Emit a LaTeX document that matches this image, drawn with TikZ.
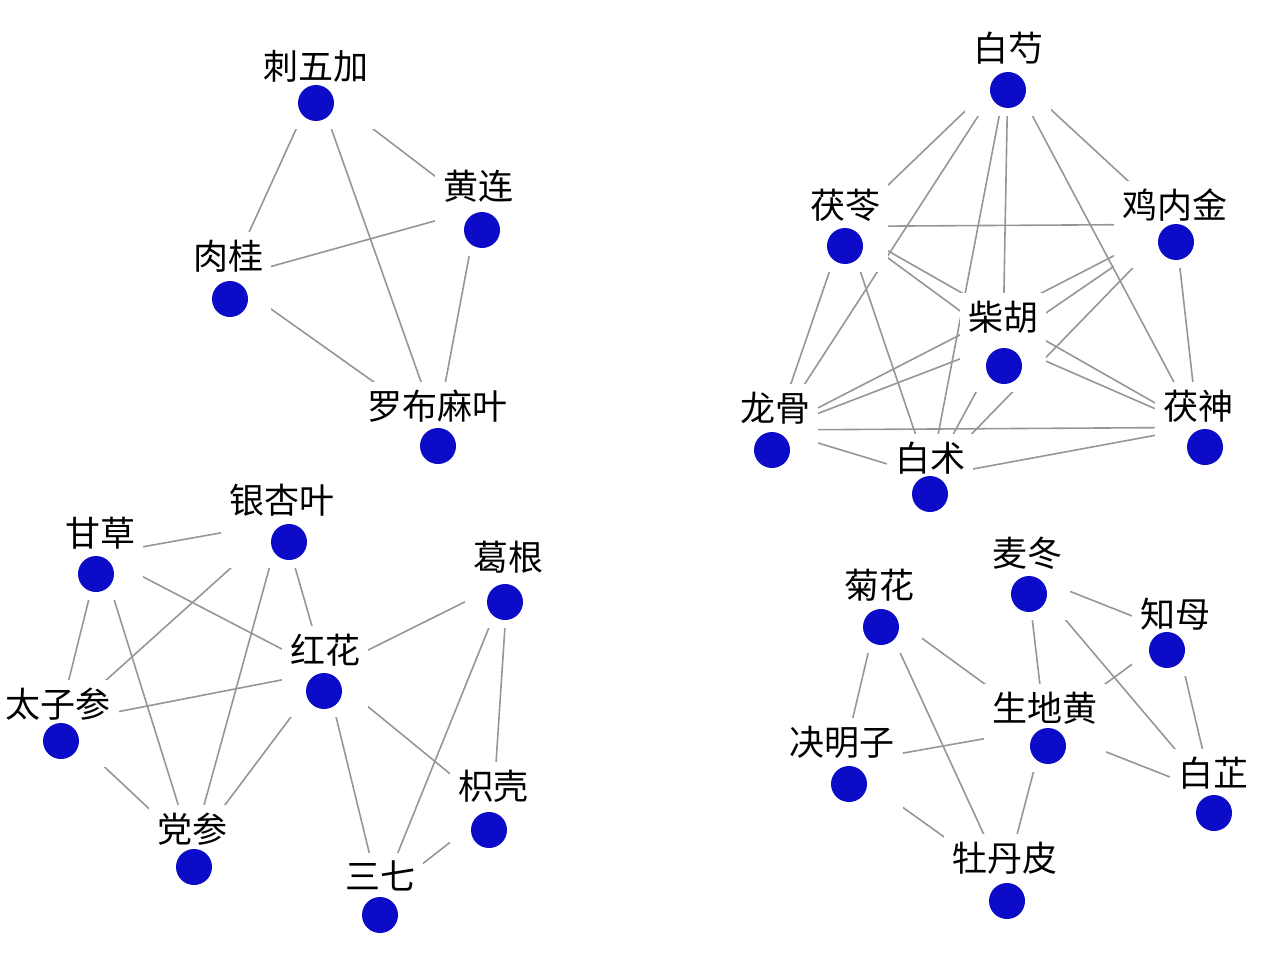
\documentclass[tikz,border=0pt]{standalone}
\usepackage{fontspec}
\newfontfamily\cjk{Noto Sans CJK SC}
\usetikzlibrary{fit}
\pgfdeclarelayer{edges}
\pgfdeclarelayer{masks}
\pgfsetlayers{edges,masks,main}
\definecolor{dotblue}{RGB}{12,12,200}
\definecolor{edgegray}{RGB}{150,150,150}
\tikzset{
  lab/.style={inner sep=0pt, font=\cjk\fontsize{35}{36}\selectfont, text=black},
  herbdot/.style={circle, fill=dotblue, minimum size=36pt, inner sep=0pt},
  mask/.style={fill=white, draw=none, inner sep=8pt},
  edge/.style={draw=edgegray, line width=1.6pt},
}
\newcommand\herb[6]{%
  \node[lab] (#1l) at (#2,#3) {#6};
  \node[herbdot] (#1d) at (#4,#5) {};
  \begin{pgfonlayer}{masks}
    \node[mask, fit=(#1l)(#1d)] (#1) {};
  \end{pgfonlayer}
}
\begin{document}
\begin{tikzpicture}[x=1pt,y=-1pt]
\useasboundingbox (0,0) rectangle (1276,971);
% top-left
\herb{cwj}{316}{66}{316}{103}{刺五加}
\herb{hl}{478}{186}{482}{230}{黄连}
\herb{rg}{228}{256}{230}{299}{肉桂}
\herb{lbmy}{437}{406}{438}{446}{罗布麻叶}
% top-right
\herb{bs}{1008}{48}{1008}{90}{白芍}
\herb{fl}{845}{205}{845}{246}{茯苓}
\herb{jnj}{1175}{205}{1176}{242}{鸡内金}
\herb{ch}{1003}{317}{1004}{366}{柴胡}
\herb{lg}{775}{408}{772}{450}{龙骨}
\herb{bz}{930}{458}{930}{494}{白术}
\herb{fs}{1198}{406}{1205}{447}{茯神}
% bottom-left
\herb{gc}{100}{533}{96}{574}{甘草}
\herb{yxy}{282}{500}{289}{542}{银杏叶}
\herb{gg}{508}{557}{505}{602}{葛根}
\herb{hh}{325}{650}{324}{691}{红花}
\herb{tzs}{58}{704}{61}{741}{太子参}
\herb{ds}{192}{829}{194}{867}{党参}
\herb{zq}{493}{786}{489}{830}{枳壳}
\herb{sq}{380}{876}{380}{915}{三七}
% bottom-right
\herb{jh}{879}{585}{881}{627}{菊花}
\herb{md}{1027}{553}{1029}{594}{麦冬}
\herb{zm}{1175}{614}{1167}{650}{知母}
\herb{sdh}{1045}{708}{1048}{746}{生地黄}
\herb{jmz}{842}{742}{849}{784}{决明子}
\herb{bzh}{1213}{773}{1214}{813}{白芷}
\herb{mdp}{1005}{858}{1007}{901}{牡丹皮}
\begin{pgfonlayer}{edges}
\foreach \a/\b in {cwj/rg,cwj/hl,cwj/lbmy,rg/hl,rg/lbmy,hl/lbmy,
  bs/fl,bs/jnj,bs/ch,bs/lg,bs/bz,bs/fs,
  fl/jnj,fl/ch,fl/lg,fl/bz,fl/fs,
  jnj/ch,jnj/lg,jnj/bz,jnj/fs,
  ch/lg,ch/bz,ch/fs,lg/bz,lg/fs,bz/fs,
  gc/yxy,gc/hh,gc/tzs,gc/ds,yxy/tzs,yxy/ds,yxy/hh,
  gg/hh,gg/sq,gg/zq,hh/tzs,hh/ds,hh/sq,hh/zq,tzs/ds,zq/sq,
  md/zm,md/sdh,md/bzh,jh/sdh,jh/jmz,jh/mdp,zm/sdh,zm/bzh,
  sdh/jmz,sdh/bzh,sdh/mdp,jmz/mdp}
  \draw[edge] (\a.center) -- (\b.center);
\end{pgfonlayer}
\end{tikzpicture}
\end{document}
